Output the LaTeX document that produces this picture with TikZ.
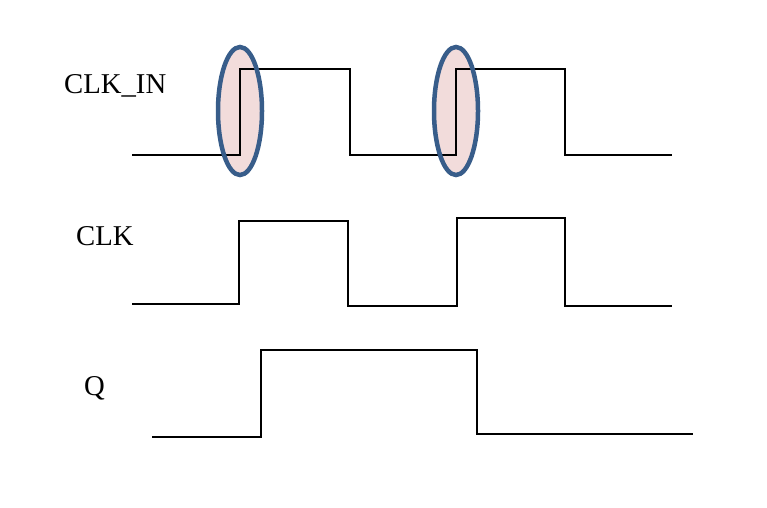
\documentclass[tikz,border=0pt]{standalone}
\usepackage{fontspec}
\setmainfont{Liberation Serif}
\usetikzlibrary{shapes.geometric}
\definecolor{ovfill}{RGB}{242,220,219}
\definecolor{ovdraw}{RGB}{56,93,138}
\definecolor{inline}{RGB}{40,20,20}
\tikzset{
  wave/.style={line width=2.3pt, black, line join=miter},
  sig/.style={font=\fontsize{28.7}{30}\selectfont, inner sep=0pt, anchor=base west},
  ovalfill/.style={ellipse, fill=ovfill, minimum width=44pt, minimum height=128pt, inner sep=0pt},
  ovalrim/.style={ellipse, draw=ovdraw, line width=4.5pt, minimum width=44pt, minimum height=128pt, inner sep=0pt}
}
\begin{document}
\begin{tikzpicture}[x=1pt,y=-1pt]
\useasboundingbox (0,0) rectangle (767,507);
% labels
\node[sig] (lclkin) at (64,93) {CLK\_IN};
\node[sig] (lclk) at (76,245) {CLK};
\node[sig] (lq) at (84,395) {Q};
% oval fills at rising edges
\node[ovalfill] (f1) at (240,111) {};
\node[ovalfill] (f2) at (456,111) {};
% CLK_IN
\draw[wave] (132,155) -- (240,155) -- (240,69) -- (350,69) -- (350,155) -- (456,155) -- (456,69) -- (565,69) -- (565,155) -- (672,155);
% oval rims
\node[ovalrim] (e1) at (240,111) {};
\node[ovalrim] (e2) at (456,111) {};
% CLK
\draw[wave] (132,304) -- (239,304) -- (239,221) -- (348,221) -- (348,306) -- (457,306) -- (457,218) -- (565,218) -- (565,306) -- (672,306);
% Q
\draw[wave] (152,437) -- (261,437) -- (261,350) -- (477,350) -- (477,434) -- (693,434);
\end{tikzpicture}
\end{document}
